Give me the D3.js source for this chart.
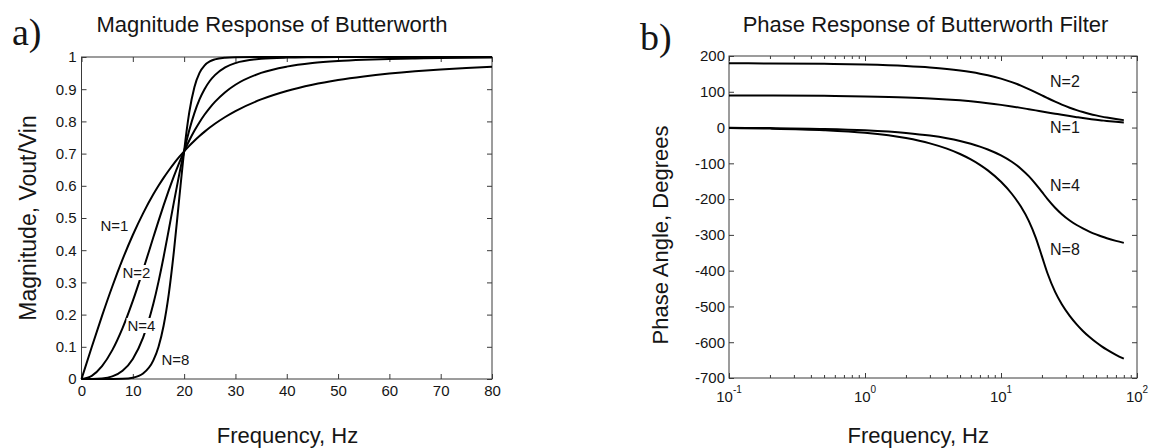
<!DOCTYPE html>
<html><head><meta charset="utf-8">
<script src="https://cdn.jsdelivr.net/npm/d3@7"></script>
<style>
body{margin:0;background:#fff}
text{font-family:"Liberation Sans",Arial,sans-serif;fill:#151515}
</style></head><body>
<svg id="c" width="1155" height="448"></svg>
<script>
// ---------- data: a) magnitude ----------
const magFreq = [0,2,4,6,8,10,12,14,15,16,17,18,19,20,21,22,23,24,25,26,28,30,35,40,45,50,55,60,65,70,75,80];
const magN1 = [0,0.0995,0.1961,0.2873,0.3714,0.4472,0.5145,0.5735,0.6,0.6247,0.6476,0.669,0.6888,0.7071,0.7241,0.7399,0.7546,0.7682,0.7809,0.7926,0.8137,0.8321,0.8682,0.8944,0.9138,0.9285,0.9398,0.9487,0.9558,0.9615,0.9662,0.9701];
const magN2 = [0,0.01,0.04,0.0896,0.158,0.2425,0.3387,0.44,0.4903,0.5391,0.5856,0.6294,0.67,0.7071,0.7407,0.7708,0.7976,0.8214,0.8423,0.8606,0.8908,0.9138,0.9506,0.9701,0.9811,0.9874,0.9913,0.9939,0.9955,0.9967,0.9975,0.9981];
const magN4 = [0,0.0001,0.0016,0.0081,0.0256,0.0624,0.1285,0.2335,0.3017,0.379,0.4627,0.5486,0.6315,0.7071,0.7723,0.8258,0.8681,0.9007,0.9254,0.9438,0.9679,0.9811,0.9943,0.9981,0.9992,0.9997,0.9999,0.9999,1,1,1,1];
const magN8 = [0,0,0,0.0001,0.0007,0.0039,0.0168,0.0576,0.0996,0.1655,0.2629,0.3954,0.5528,0.7071,0.828,0.9062,0.9505,0.974,0.9862,0.9925,0.9977,0.9992,1,1,1,1,1,1,1,1,1,1];
const magXTicks = [0,10,20,30,40,50,60,70,80];
const magYTicks = [0,0.1,0.2,0.3,0.4,0.5,0.6,0.7,0.8,0.9,1];
const magYTickLabels = ["0","0.1","0.2","0.3","0.4","0.5","0.6","0.7","0.8","0.9","1"];
const magCurveLabels = ["N=1","N=2","N=4","N=8"];

// ---------- data: b) phase ----------
const phaseFreq = [0.1,0.2,0.5,1,2,3,4,5,6,7,8,10,12,14,16,18,20,22,25,28,32,36,40,45,50,55,60,70,80];
const phaseN1 = [89.7,89.4,88.6,87.1,84.3,81.5,78.7,76.0,73.3,70.7,68.2,63.4,59.0,55.0,51.3,48.0,45.0,42.3,38.7,35.5,32.0,29.1,26.6,24.0,21.8,20.0,18.4,15.9,14.0];
const phaseN2 = [179.6,179.2,178.0,176.0,171.9,167.8,163.6,159.3,155.0,150.6,146.0,136.7,127.0,117.3,107.6,98.5,90.0,82.3,72.3,64.1,55.4,48.6,43.3,38.1,34.0,30.6,27.9,23.7,20.7];
const phaseN4 = [-0.7,-1.5,-3.7,-7.5,-15.0,-22.5,-30.1,-37.8,-45.5,-53.4,-61.4,-78.0,-95.7,-114.9,-135.9,-158.1,-180,-199.9,-224.2,-242.2,-259.7,-272.4,-282.0,-291.4,-298.6,-304.5,-309.3,-316.7,-322.3];
const phaseN8 = [-1.5,-2.9,-7.3,-14.7,-29.4,-44.2,-59.0,-74.0,-89.1,-104.3,-119.8,-151.7,-185.0,-220.9,-260.8,-307.5,-360,-407.9,-459.2,-493.7,-526.3,-550.0,-568.4,-586.2,-600.2,-611.5,-620.8,-635.3,-646.0];
const phaseYTicks = [-700,-600,-500,-400,-300,-200,-100,0,100,200];
const phaseXExps = [-1,0,1,2];
const phaseCurveLabels = ["N=2","N=1","N=4","N=8"];

// ---------- layout ----------
const svg = d3.select("#c");
const A = {x0:81.5, x1:492, y0:57, y1:379};
const B = {x0:729, x1:1137, y0:56, y1:378};
const tickLen = 5;
const axisColor = "#3a3a3a";

function styleAxis(g, fs){
  g.select(".domain").remove();
  g.selectAll(".tick line").attr("stroke", axisColor).attr("stroke-width",1);
  g.selectAll(".tick text").attr("font-size", fs).attr("fill","#151515")
    .attr("font-family","Liberation Sans, Arial, sans-serif");
}
function addLabel(x, y, t, fs){
  const g = svg.append("g");
  const txt = g.append("text").attr("x",x).attr("y",y).attr("font-size",fs).text(t);
  const bb = txt.node().getBBox();
  g.insert("rect","text").attr("x",bb.x-1).attr("y",bb.y+1).attr("width",bb.width+2).attr("height",bb.height-2).attr("fill","#fff");
}

// ===== a) =====
const xA = d3.scaleLinear().domain([0,80]).range([A.x0,A.x1]);
const yA = d3.scaleLinear().domain([0,1]).range([A.y1,A.y0]);

svg.append("g").attr("transform",`translate(0,${A.y1})`)
  .call(d3.axisBottom(xA).tickValues(magXTicks).tickSize(-tickLen).tickPadding(6).tickFormat(d=>String(d)))
  .call(g=>styleAxis(g,15));
svg.append("g").attr("transform",`translate(0,${A.y0})`)
  .call(d3.axisTop(xA).tickValues(magXTicks).tickSize(-tickLen).tickFormat(""))
  .call(g=>styleAxis(g,15));
svg.append("g").attr("transform",`translate(${A.x0},0)`)
  .call(d3.axisLeft(yA).tickValues(magYTicks).tickSize(-tickLen).tickPadding(5).tickFormat((d,i)=>magYTickLabels[i]))
  .call(g=>styleAxis(g,15));
svg.append("g").attr("transform",`translate(${A.x1},0)`)
  .call(d3.axisRight(yA).tickValues(magYTicks).tickSize(-tickLen).tickFormat(""))
  .call(g=>styleAxis(g,15));
svg.append("rect").attr("x",A.x0).attr("y",A.y0).attr("width",A.x1-A.x0).attr("height",A.y1-A.y0)
  .attr("fill","none").attr("stroke",axisColor).attr("stroke-width",1);

const lineA = d3.line().x((d,i)=>xA(magFreq[i])).y(d=>yA(d)).curve(d3.curveMonotoneX);
[magN1,magN2,magN4,magN8].forEach(s=>{
  svg.append("path").attr("d",lineA(s)).attr("fill","none").attr("stroke","#000").attr("stroke-width",2);
});
const magLabelPos = [[100.5,231],[122.5,278],[127.5,331],[161.5,365]];
magCurveLabels.forEach((t,i)=>addLabel(magLabelPos[i][0],magLabelPos[i][1],t,15));

svg.append("text").attr("x",272).attr("y",32).attr("text-anchor","middle").attr("font-size",22).text("Magnitude Response of Butterworth");
svg.append("text").attr("x",287.5).attr("y",442.5).attr("text-anchor","middle").attr("font-size",22).text("Frequency, Hz");
svg.append("text").attr("transform","translate(36,218) rotate(-90)").attr("text-anchor","middle").attr("font-size",23).text("Magnitude, Vout/Vin");
svg.append("text").attr("x",12).attr("y",44.5).attr("font-size",38).style("font-family","Liberation Serif, Times New Roman, serif").text("a)");

// ===== b) =====
const xB = d3.scaleLog().domain([0.1,100]).range([B.x0,B.x1]);
const yB = d3.scaleLinear().domain([-700,200]).range([B.y1,B.y0]);
const majorB = phaseXExps.map(e=>Math.pow(10,e));
const minorB = [];
phaseXExps.slice(0,-1).forEach(e=>{for(let k=2;k<=9;k++) minorB.push(k*Math.pow(10,e));});

[[B.y1,d3.axisBottom],[B.y0,d3.axisTop]].forEach(([ty,ax])=>{
  svg.append("g").attr("transform",`translate(0,${ty})`)
    .call(ax(xB).tickValues(majorB).tickSize(-tickLen).tickFormat(""))
    .call(g=>styleAxis(g,15));
  svg.append("g").attr("transform",`translate(0,${ty})`)
    .call(ax(xB).tickValues(minorB).tickSize(-3).tickFormat(""))
    .call(g=>styleAxis(g,15));
});
svg.append("g").attr("transform",`translate(${B.x0},0)`)
  .call(d3.axisLeft(yB).tickValues(phaseYTicks).tickSize(-tickLen).tickPadding(4).tickFormat(d=>String(d)))
  .call(g=>styleAxis(g,15));
svg.append("g").attr("transform",`translate(${B.x1},0)`)
  .call(d3.axisRight(yB).tickValues(phaseYTicks).tickSize(-tickLen).tickFormat(""))
  .call(g=>styleAxis(g,15));
svg.append("rect").attr("x",B.x0).attr("y",B.y0).attr("width",B.x1-B.x0).attr("height",B.y1-B.y0)
  .attr("fill","none").attr("stroke",axisColor).attr("stroke-width",1);
// log tick labels 10^e
phaseXExps.forEach(e=>{
  const t = svg.append("text").attr("x",xB(Math.pow(10,e))).attr("y",402).attr("text-anchor","middle").attr("font-size",15);
  t.append("tspan").text("10");
  t.append("tspan").attr("dy",-9).attr("font-size",10).text(String(e));
});

const lineB = d3.line().x((d,i)=>xB(phaseFreq[i])).y(d=>yB(d)).curve(d3.curveMonotoneX);
[phaseN1,phaseN2,phaseN4,phaseN8].forEach(s=>{
  svg.append("path").attr("d",lineB(s)).attr("fill","none").attr("stroke","#000").attr("stroke-width",2);
});
const phaseLabelPos = [[1050,86.5],[1050,133],[1050,190.5],[1050,255]];
phaseCurveLabels.forEach((t,i)=>addLabel(phaseLabelPos[i][0],phaseLabelPos[i][1],t,16));

svg.append("text").attr("x",925.5).attr("y",32).attr("text-anchor","middle").attr("font-size",22).text("Phase Response of Butterworth Filter");
svg.append("text").attr("x",918.3).attr("y",442.5).attr("text-anchor","middle").attr("font-size",22).text("Frequency, Hz");
svg.append("text").attr("transform","translate(668,235) rotate(-90)").attr("text-anchor","middle").attr("font-size",22).text("Phase Angle, Degrees");
svg.append("text").attr("x",640).attr("y",49.5).attr("font-size",38).style("font-family","Liberation Serif, Times New Roman, serif").text("b)");
</script>
</body></html>
